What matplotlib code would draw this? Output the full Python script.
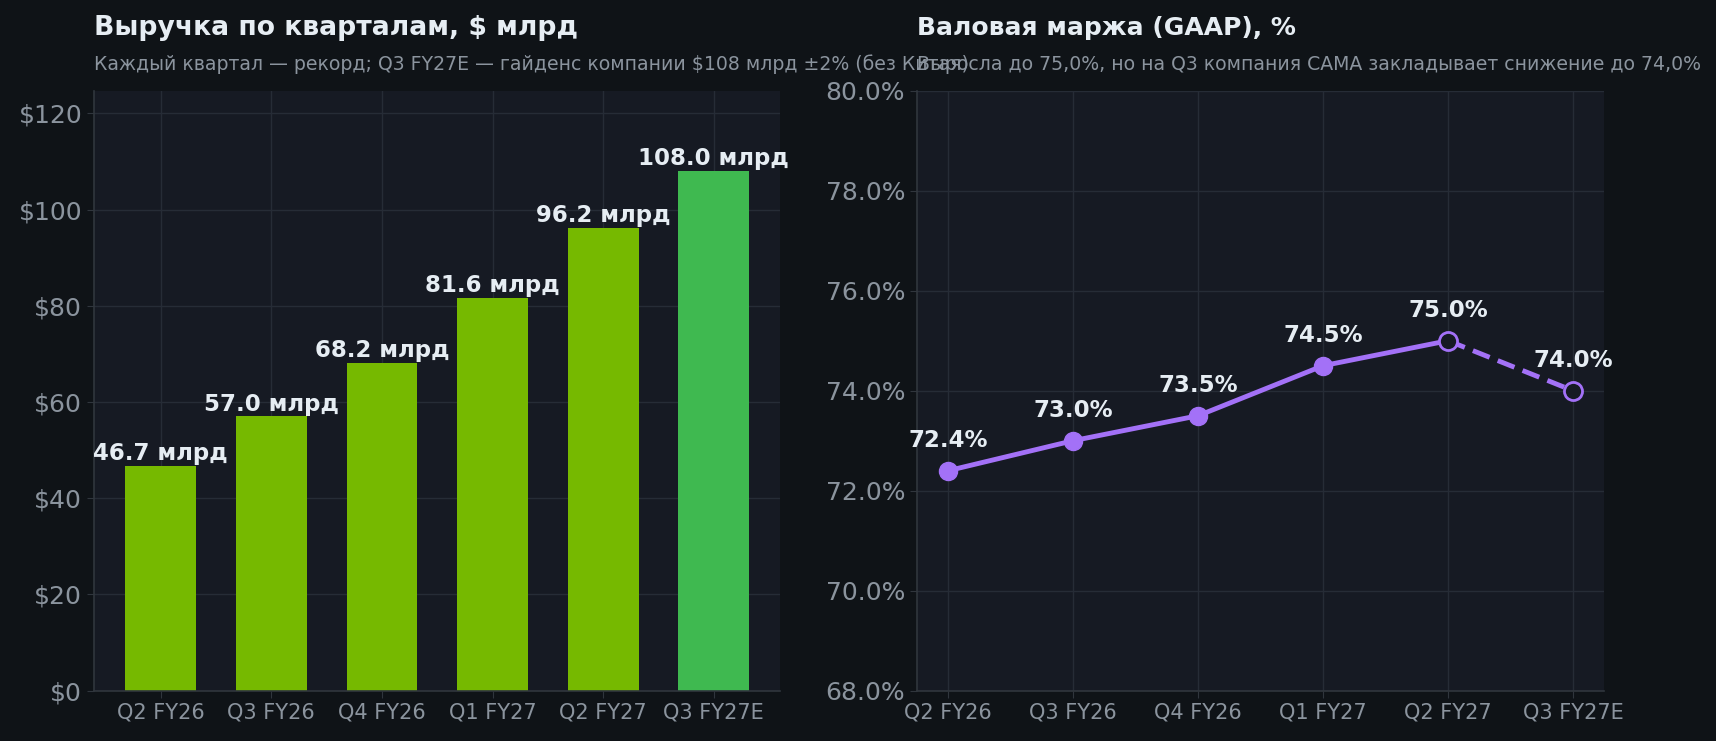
import matplotlib
matplotlib.use("Agg")
import matplotlib.pyplot as plt
from matplotlib.ticker import FuncFormatter

# данные
quarters = ["Q2 FY26", "Q3 FY26", "Q4 FY26", "Q1 FY27", "Q2 FY27", "Q3 FY27E"]
revenue = [46.7, 57.0, 68.2, 81.6, 96.2, 108.0]
margin = [72.4, 73.0, 73.5, 74.5, 75.0, 74.0]

BG = "#0f1317"
AX_BG = "#161a23"
TXT = "#e6edf3"
MUTED = "#8b949e"
GRID = "#262c36"
SPINE = "#30363d"
GREEN = "#76b900"
GREEN_E = "#3fb950"
PURPLE = "#a371f7"

plt.rcParams["font.family"] = ["DejaVu Sans"]

fig = plt.figure(figsize=(17.16, 7.41), dpi=100, facecolor=BG)
ax1 = fig.add_axes([0.0548, 0.068, 0.400, 0.8095])
ax2 = fig.add_axes([0.5344, 0.068, 0.4005, 0.8095])


def style(ax):
    ax.set_facecolor(AX_BG)
    for s in ["top", "right"]:
        ax.spines[s].set_visible(False)
    for s in ["left", "bottom"]:
        ax.spines[s].set_color(SPINE)
        ax.spines[s].set_linewidth(1.2)
    ax.grid(True, color=GRID, linewidth=1)
    ax.set_axisbelow(True)
    ax.tick_params(axis="y", colors=SPINE, labelcolor=MUTED, labelsize=18, length=5)
    ax.tick_params(axis="x", colors=SPINE, labelcolor=MUTED, labelsize=15, length=5)


def titles(ax, title, sub, tsize):
    ax.text(0, 1.093, title, transform=ax.transAxes, color=TXT, fontsize=tsize,
            fontweight="bold", ha="left", va="baseline")
    ax.text(0, 1.034, sub, transform=ax.transAxes, color=MUTED, fontsize=13.6,
            ha="left", va="baseline")


### ВЫРУЧКА
style(ax1)
x = list(range(len(quarters)))
colors = [GREEN] * (len(quarters) - 1) + [GREEN_E]
ax1.bar(x, revenue, width=0.64, color=colors, zorder=2)
for xi, v in zip(x, revenue):
    ax1.annotate(f"{v:.1f} млрд", (xi, v), xytext=(0, 0.5), textcoords="offset points",
                 ha="center", va="bottom", color=TXT, fontsize=16.5, fontweight="bold")
ax1.set_ylim(0, 124.7)
ax1.set_yticks([0, 20, 40, 60, 80, 100, 120])
ax1.yaxis.set_major_formatter(FuncFormatter(lambda v, p: f"${v:.0f}"))
ax1.set_xticks(x)
ax1.set_xticklabels(quarters)
titles(ax1, "Выручка по кварталам, $ млрд",
       "Каждый квартал — рекорд; Q3 FY27E — гайденс компании $108 млрд ±2% (без Китая)", 19.2)

### МАРЖА
style(ax2)
ax2.plot(x[:5], margin[:5], color=PURPLE, linewidth=3.5, zorder=3)
ax2.plot(x[4:], margin[4:], color=PURPLE, linewidth=3.5, linestyle=(0, (3.7, 1.8)), zorder=3)
ax2.plot(x[:4], margin[:4], "o", color=PURPLE, markersize=13, zorder=4)
ax2.plot(x[4:], margin[4:], "o", markerfacecolor=AX_BG, markeredgecolor=PURPLE,
         markeredgewidth=2, markersize=13, zorder=4)
for xi, v in zip(x, margin):
    ax2.annotate(f"{v:.1f}%", (xi, v), xytext=(0, 17), textcoords="offset points",
                 ha="center", va="baseline", color=TXT, fontsize=16.5, fontweight="bold")
ax2.set_xlim(-0.25, 5.25)
ax2.set_ylim(68, 80)
ax2.set_yticks([68, 70, 72, 74, 76, 78, 80])
ax2.yaxis.set_major_formatter(FuncFormatter(lambda v, p: f"{v:.1f}%"))
ax2.set_xticks(x)
ax2.set_xticklabels(quarters)
titles(ax2, "Валовая маржа (GAAP), %",
       "Выросла до 75,0%, но на Q3 компания CAMA закладывает снижение до 74,0%", 18)

fig.savefig("out.png", dpi=100, facecolor=BG)
